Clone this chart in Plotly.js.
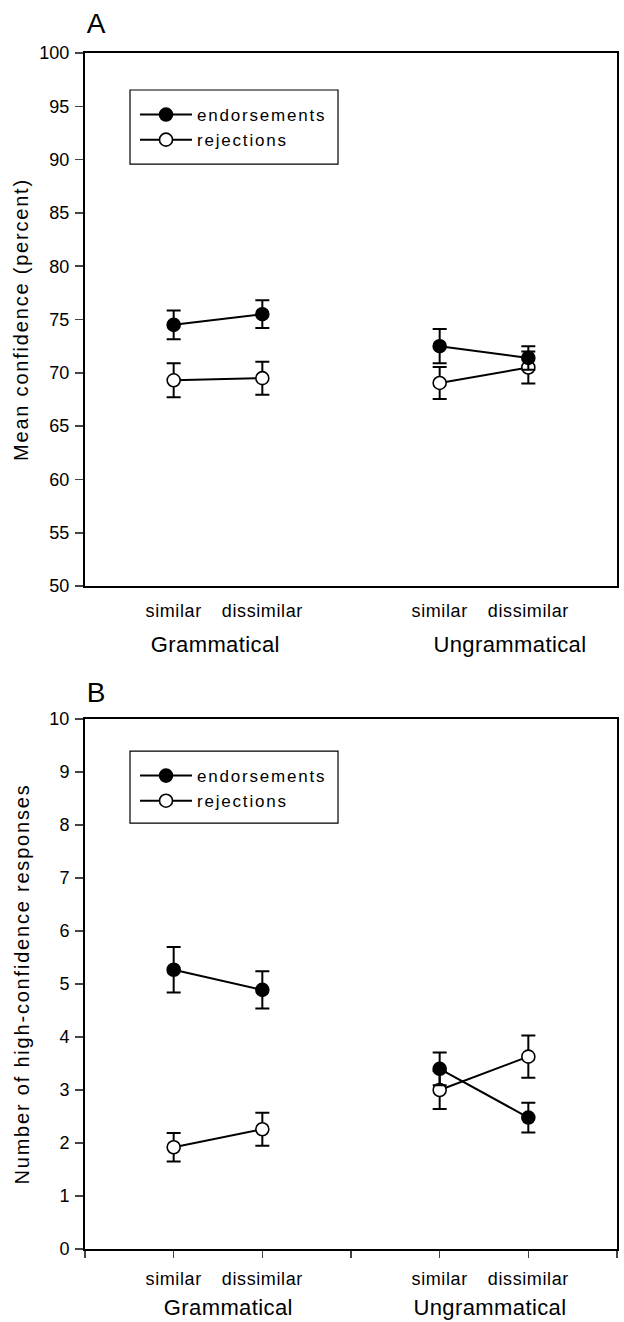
<!DOCTYPE html>
<html>
<head>
<meta charset="utf-8">
<script src="https://cdn.plot.ly/plotly-3.0.1.min.js"></script>
<style>
html,body{margin:0;padding:0;background:#fff;}
text.legendtext, g.legend text, g.legend2 text, .legend2 .legendtext{letter-spacing:1.8px;}
#chart .ytitle, #chart .y2title{letter-spacing:1.8px;}
#chart .xtick text, #chart .x2tick text{letter-spacing:0.6px;}
#chart .annotation-text{letter-spacing:0.4px;}
</style>
</head>
<body>
<div id="chart" style="width:624px;height:1322px;"></div>
<script>
// ---- data ----
var conditionX = [1, 2, 4, 5];               // similar, dissimilar | similar, dissimilar
var groups = ["Grammatical", "Ungrammatical"];
var groupCentersA = [1.47, 4.79];
var groupCentersB = [1.62, 4.57];
var subLabels = ["similar", "dissimilar", "similar", "dissimilar"];

var A_endorse = [74.5, 75.5, 72.5, 71.4];
var A_endorseErr = [1.35, 1.3, 1.6, 1.1];
var A_reject = [69.3, 69.5, 69.05, 70.5];
var A_rejectErr = [1.6, 1.55, 1.5, 1.5];

var B_endorse = [5.27, 4.89, 3.40, 2.48];
var B_endorseErr = [0.43, 0.35, 0.31, 0.28];
var B_reject = [1.92, 2.26, 3.00, 3.63];
var B_rejectErr = [0.27, 0.31, 0.36, 0.40];

var yTicksA = [50, 55, 60, 65, 70, 75, 80, 85, 90, 95, 100];
var yTicksB = [0, 1, 2, 3, 4, 5, 6, 7, 8, 9, 10];

var FONT = "Liberation Sans, Arial, Helvetica, sans-serif";

function series(name, xs, ys, errs, filled, xa, ya, legend, showLegend, rank) {
  return {
    type: "scatter", mode: "lines+markers", name: name,
    x: xs, y: ys, xaxis: xa, yaxis: ya,
    legend: legend, legendgroup: legend + name, showlegend: showLegend, legendrank: rank,
    line: {color: "#000", width: 2},
    marker: {size: 13, color: filled ? "#000" : "#fff", line: {color: "#000", width: 1.6}},
    error_y: {type: "data", array: errs, visible: true, color: "#000", thickness: 2, width: 7},
    cliponaxis: false
  };
}

var traces = [];
function addPanel(endorse, endorseErr, reject, rejectErr, xa, ya, legend) {
  for (var g = 0; g < 2; g++) {
    traces.push(series("rejections", conditionX.slice(g * 2, g * 2 + 2), reject.slice(g * 2, g * 2 + 2),
      rejectErr.slice(g * 2, g * 2 + 2), false, xa, ya, legend, g === 0, 2));
  }
  for (var h = 0; h < 2; h++) {
    traces.push(series("endorsements", conditionX.slice(h * 2, h * 2 + 2), endorse.slice(h * 2, h * 2 + 2),
      endorseErr.slice(h * 2, h * 2 + 2), true, xa, ya, legend, h === 0, 1));
  }
}
addPanel(A_endorse, A_endorseErr, A_reject, A_rejectErr, "x", "y", "legend");
addPanel(B_endorse, B_endorseErr, B_reject, B_rejectErr, "x2", "y2", "legend2");

var axisCommon = {
  showline: true, mirror: true, linecolor: "#000", linewidth: 2,
  showgrid: false, zeroline: false, fixedrange: true,
  tickfont: {family: FONT, size: 18, color: "#000"}
};

var annotations = [];
[["x", "y", groupCentersA], ["x2", "y2", groupCentersB]].forEach(function (ax) {
  for (var i = 0; i < groups.length; i++) {
    annotations.push({
      text: groups[i], x: ax[2][i], xref: ax[0], y: 0, yref: ax[1] + " domain",
      yanchor: "middle", yshift: -58, showarrow: false,
      font: {family: FONT, size: 22, color: "#000"}
    });
  }
});
annotations.push({text: "A", x: 0, xref: "x domain", y: 1, yref: "y domain", xanchor: "left", yanchor: "middle", yshift: 30, showarrow: false, font: {family: FONT, size: 28, color: "#000"}});
annotations.push({text: "B", x: 0, xref: "x2 domain", y: 1, yref: "y2 domain", xanchor: "left", yanchor: "middle", yshift: 27, showarrow: false, font: {family: FONT, size: 28, color: "#000"}});

var legendCommon = {
  x: 0.094, xanchor: "left", yanchor: "top", bgcolor: "rgba(0,0,0,0)", borderwidth: 0,
  font: {family: FONT, size: 17, color: "#000"}, traceorder: "normal", itemwidth: 52
};

var layout = {
  width: 624, height: 1322,
  margin: {l: 85, r: 7, t: 53, b: 73},
  paper_bgcolor: "#fff", plot_bgcolor: "#fff",
  font: {family: FONT, color: "#000"},
  showlegend: true,
  xaxis: Object.assign({}, axisCommon, {
    anchor: "y", range: [0, 6], tickvals: conditionX, ticktext: subLabels, ticks: "", ticklabelstandoff: 7
  }),
  yaxis: Object.assign({}, axisCommon, {
    anchor: "x", domain: [0.5543, 1], range: [50, 100], tickvals: yTicksA,
    ticks: "outside", ticklen: 8, tickwidth: 1.5, ticklabelstandoff: 2,
    title: {text: "Mean confidence (percent)", font: {family: FONT, size: 20, color: "#000"}, standoff: 5}
  }),
  xaxis2: Object.assign({}, axisCommon, {
    anchor: "y2", range: [0, 6], tickvals: [0, 1, 2, 3, 4, 5, 6],
    ticktext: ["", subLabels[0], subLabels[1], "", subLabels[2], subLabels[3], ""],
    ticks: "outside", ticklen: 7, tickwidth: 1.5, ticklabelstandoff: 5
  }),
  yaxis2: Object.assign({}, axisCommon, {
    anchor: "x2", domain: [0, 0.4431], range: [0, 10], tickvals: yTicksB,
    ticks: "outside", ticklen: 8, tickwidth: 1.5, ticklabelstandoff: 2,
    title: {text: "Number of high-confidence responses", font: {family: FONT, size: 20, color: "#000"}, standoff: 14}
  }),
  legend: Object.assign({}, legendCommon, {y: 0.9632}),
  legend2: Object.assign({}, legendCommon, {y: 0.4105}),
  shapes: [
    {type: "rect", xref: "x domain", yref: "y domain", x0: 0.0846, x1: 0.4756, y0: 0.7917, y1: 0.9306, line: {color: "#000", width: 1.2}},
    {type: "rect", xref: "x2 domain", yref: "y2 domain", x0: 0.0846, x1: 0.4756, y0: 0.8038, y1: 0.9396, line: {color: "#000", width: 1.2}}
  ],
  annotations: annotations
};

Plotly.newPlot("chart", traces, layout, {staticPlot: true, displayModeBar: false});
</script>
</body>
</html>
